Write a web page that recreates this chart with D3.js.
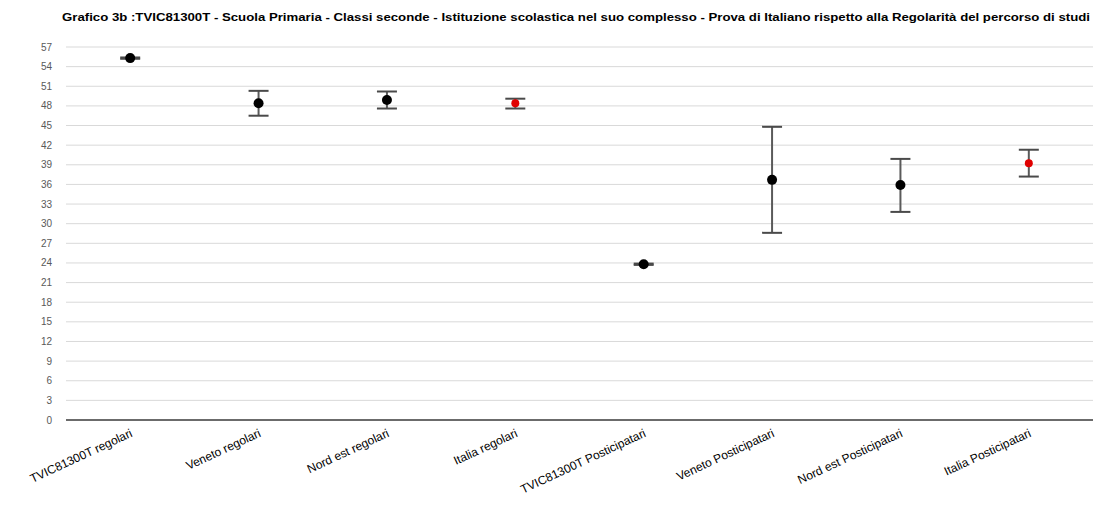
<!DOCTYPE html>
<html><head><meta charset="utf-8">
<script src="https://cdn.jsdelivr.net/npm/d3@7"></script>
<style>body{margin:0;background:#fff}svg{display:block}</style>
</head><body>
<svg id="c" width="1093" height="521"></svg>
<script>
const titleText = "Grafico 3b :TVIC81300T - Scuola Primaria - Classi seconde - Istituzione scolastica nel suo complesso - Prova di Italiano rispetto alla Regolarità del percorso di studi";
const categories = ["TVIC81300T regolari","Veneto regolari","Nord est regolari","Italia regolari","TVIC81300T Posticipatari","Veneto Posticipatari","Nord est Posticipatari","Italia Posticipatari"];
const means = [55.3, 48.4, 48.9, 48.4, 23.8, 36.7, 35.9, 39.25];
const upper = [55.4, 50.3, 50.2, 49.1, 23.9, 44.8, 39.9, 41.3];
const lower = [55.2, 46.5, 47.6, 47.6, 23.7, 28.6, 31.8, 37.2];
const isItalia = [false,false,false,true,false,false,false,true];
const yTicks = d3.range(0, 58, 3);

const svg = d3.select("#c");
const m = {left:66, right:1093, top:47, bottom:420};
const x = d3.scaleBand().domain(categories).range([m.left, m.right]);
const y = d3.scaleLinear().domain([0,57]).range([m.bottom, m.top]);

// title
const t = svg.append("text").attr("x",62).attr("y",21)
  .attr("font-family","Liberation Sans, Arial, sans-serif").attr("font-size",11).attr("font-weight","bold")
  .attr("fill","#000").text(titleText);
const tl = t.node().getComputedTextLength();
if (Math.abs(tl-1028) > 10) t.attr("textLength",1028).attr("lengthAdjust","spacingAndGlyphs");

// grid
svg.append("g").selectAll("line").data(yTicks.filter(d=>d>0)).join("line")
  .attr("x1",m.left).attr("x2",m.right).attr("y1",d=>y(d)).attr("y2",d=>y(d))
  .attr("stroke","#d9d9d9").attr("stroke-width",1);
svg.append("line").attr("x1",m.left).attr("x2",m.right).attr("y1",y(0)).attr("y2",y(0))
  .attr("stroke","#6b6b6b").attr("stroke-width",2);

// y labels
svg.append("g").selectAll("text").data(yTicks).join("text")
  .attr("x",52).attr("y",d=>y(d)+3.5).attr("text-anchor","end")
  .attr("font-family","Liberation Sans, Arial, sans-serif").attr("font-size",10).attr("fill","#595959")
  .text(d=>d);

// x labels
svg.append("g").selectAll("text").data(categories).join("text")
  .attr("transform",d=>`translate(${x(d)+x.bandwidth()/2+3},${436}) rotate(-25)`)
  .attr("text-anchor","end")
  .attr("font-family","Liberation Sans, Arial, sans-serif").attr("font-size",12).attr("fill","#000")
  .text(d=>d);

// error bars
const cx = i => x(categories[i]) + x.bandwidth()/2;
const g = svg.append("g");
categories.forEach((c,i)=>{
  g.append("line").attr("x1",cx(i)).attr("x2",cx(i)).attr("y1",y(upper[i])).attr("y2",y(lower[i]))
    .attr("stroke","#5a5a5a").attr("stroke-width",2);
  [upper[i],lower[i]].forEach(v=>{
    g.append("line").attr("x1",cx(i)-10).attr("x2",cx(i)+10).attr("y1",y(v)).attr("y2",y(v))
      .attr("stroke","#4a4a4a").attr("stroke-width",2);
  });
});
g.selectAll("circle").data(means).join("circle")
  .attr("cx",(d,i)=>cx(i)).attr("cy",d=>y(d))
  .attr("r",(d,i)=>isItalia[i]?4:5)
  .attr("fill",(d,i)=>isItalia[i]?"#e00000":"#000");
</script>
</body></html>
